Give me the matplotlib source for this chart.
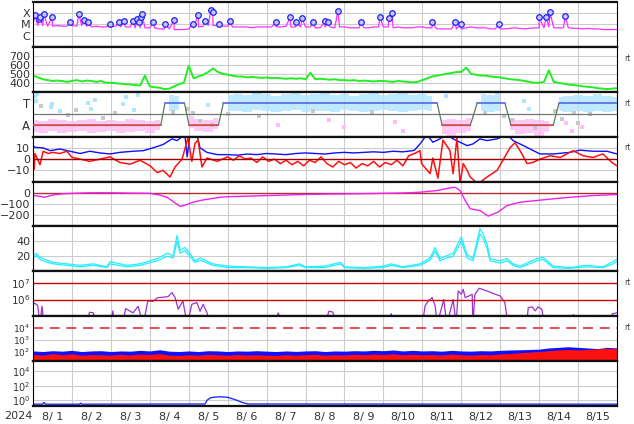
import numpy as np
import matplotlib
matplotlib.use("Agg")
import matplotlib.pyplot as plt

# time axis: days since 2024-08-01 00 UT
day_labels = ["8/ 1", "8/ 2", "8/ 3", "8/ 4", "8/ 5", "8/ 6", "8/ 7", "8/ 8",
              "8/ 9", "8/10", "8/11", "8/12", "8/13", "8/14", "8/15"]

# --- X-ray background, 3-hourly, in units of 1e-6 W/m2
xray_base = [9, 8, 8, 7, 7, 8, 7, 7,
             8, 7, 8, 7, 6, 7, 6, 6,
             6, 7, 6, 6, 6, 5, 5, 5,
             5, 5, 4, 4, 4, 3.5, 3.5, 3.5,
             4, 5, 6, 7, 8, 8, 8, 7,
             7, 6, 6, 6, 6, 5, 6, 6,
             6, 6, 6, 6, 7, 6, 6, 6,
             6, 6, 5, 5, 6, 6, 5, 6,
             6, 5, 5, 5, 5, 5, 6, 6,
             6, 6, 5, 6, 5, 5, 5, 6,
             6, 5, 5, 4, 4, 4, 4, 4,
             4, 5, 6, 5, 5, 5, 4, 4,
             4, 4, 4.5, 5, 4.5, 4, 4.5, 5,
             5, 5, 6, 5, 5, 5, 5, 4.5,
             4.5, 4, 4.5, 4, 4, 3.5, 3.5, 3.5,
             3.5]
# flare peaks (day, flux)
flare_day = [0.05, 0.15, 0.18, 0.28, 0.49, 0.95, 1.18, 1.31, 1.41, 1.98, 2.21, 2.34,
             2.57, 2.67, 2.72, 2.77, 2.80, 3.08, 3.39, 3.62, 4.11, 4.24, 4.42, 4.57,
             4.62, 4.78, 5.06, 6.24, 6.60, 6.76, 6.91, 7.19, 7.50, 7.58, 7.83, 8.43,
             8.91, 9.14, 9.22, 10.25, 10.84, 10.99, 11.97, 13.00, 13.18, 13.28, 13.67]
flare_flux = [6.6e-5, 2.8e-5, 4.3e-5, 8.1e-5, 4.3e-5, 1.5e-5, 8.1e-5, 2.3e-5, 1.5e-5,
              1.2e-5, 1.5e-5, 1.9e-5, 1.9e-5, 2.8e-5, 1.5e-5, 4.3e-5, 8.1e-5, 1.5e-5,
              1.2e-5, 2.3e-5, 1.2e-5, 6.6e-5, 1.9e-5, 1.9e-4, 1.2e-4, 1.2e-5, 1.9e-5,
              1.5e-5, 4.3e-5, 1.5e-5, 3.5e-5, 1.5e-5, 1.9e-5, 1.5e-5, 1.5e-4, 1.5e-5,
              4.3e-5, 3.5e-5, 1.0e-4, 1.5e-5, 1.5e-5, 1.0e-5, 1.2e-5, 4.3e-5, 4.3e-5,
              1.2e-4, 5.4e-5]

# --- solar wind speed, 3-hourly (km/s)
speed = [480, 460, 440, 430, 420, 425, 420, 410,
         420, 430, 415, 425, 420, 410, 420, 400,
         400, 395, 390, 385, 380, 375, 370, 480,
         360, 350, 345, 330, 335, 360, 385, 400,
         590, 450, 470, 490, 520, 560, 520, 500,
         490, 480, 470, 470, 460, 465, 460, 455,
         460, 450, 455, 450, 445, 450, 445, 450,
         440, 510, 440, 445, 440, 435, 440, 430,
         430, 425, 430, 420, 425, 420, 415, 420,
         420, 415, 410, 420, 415, 410, 405, 410,
         430, 450, 470, 480, 490, 500, 510, 520,
         520, 570, 500, 490, 480, 480, 470, 465,
         460, 450, 440, 435, 430, 420, 410, 400,
         400, 410, 540, 410, 400, 390, 380, 375,
         370, 360, 355, 350, 340, 335, 330, 335,
         340]

# --- IMF sector (T=+1, A=-1)
sector_day = [0, 3.28, 3.39, 3.89, 4.01, 4.76, 4.89, 10.38, 10.51, 11.23, 11.41,
              12.12, 12.28, 13.36, 13.51, 15]
sector_val = [-1, -1, 1, 1, -1, -1, 1, 1, -1, -1, 1, 1, -1, -1, 1, 1]
# measured direction spread, 6-hourly
imf_lo = [-1.6, -1.7, -1.5, -1.7, -1.6, -1.5, -1.7, -1.6, -1.5, -1.7, -1.6, -1.5, -1.7,
          -1.4, 0.3, 0.4, -1.2, -1.5, -1.6, -1.3, 0.3,
          0.3, 0.2, 0.4, 0.3, 0.2, 0.3, 0.4, 0.2, 0.3, 0.3, 0.2, 0.4, 0.3, 0.2, 0.3,
          0.4, 0.3, 0.2, 0.3, 0.4, 0.3,
          -1.8, -1.9, -1.7, -1.5, 0.3, 0.2, 0.3, -1.4, -1.8, -1.7, -1.9, -1.6,
          0.3, 0.2, 0.3, 0.2, 0.3, 0.2, 0.3]
imf_hi = [-0.5, -0.6, -0.4, -0.5, -0.6, -0.5, -0.4, -0.6, -0.5, -0.6, -0.4, -0.5, -0.6,
          -0.5, 1.7, 1.6, -0.2, -0.4, -0.5, -0.3, 1.7,
          1.8, 1.7, 1.9, 1.8, 1.6, 1.8, 1.9, 1.7, 1.8, 1.9, 1.7, 1.8, 1.6, 1.8, 1.9,
          1.7, 1.8, 1.9, 1.7, 1.8, 1.6,
          -0.5, -0.4, -0.5, -0.3, 1.8, 1.7, 1.9, -0.3, -0.5, -0.4, -0.5, -0.6,
          1.5, 1.6, 1.7, 1.6, 1.8, 1.6, 1.5]
imf_blue_day = [0.05, 0.08, 0.1, 0.45, 0.5, 0.7, 1.4, 1.5, 1.6, 2.3, 2.4, 2.6, 2.7,
                4.5, 10.6, 12.6, 12.75]
imf_blue_val = [1.6, 1.2, 1.8, 0.6, 0.9, 0.3, 1.0, 0.5, 1.3, 0.9, 1.5, 0.4, 1.7,
                0.8, 1.6, 1.2, 0.5]
imf_pink_day = [6.3, 7.6, 8.0, 9.3, 9.5, 13.7, 13.85, 14.1]
imf_pink_val = [-1.0, -0.5, -1.1, -0.7, -1.5, -0.8, -1.5, -1.1]
imf_gray_day = [0.2, 0.9, 1.1, 1.8, 2.1, 3.6, 4.1, 5.0, 5.8, 11.6, 12.1, 13.4, 13.6,
                13.9, 14.3, 14.0, 3.95, 4.3, 4.6, 7.2, 8.7, 12.3, 12.9]
imf_gray_val = [0.7, -0.1, 0.4, -0.3, 0.1, 0.2, 0.1, 0.0, -0.2, 0.1, -0.2, 0.3, -0.4,
                0.1, 0.0, -0.8, 0.5, -0.6, -1.0, 0.3, 0.2, -0.5, -1.2]

# --- IMF Bt / Bz (nT)
bt_day = [0, 0.05, 0.26, 0.44, 0.69, 0.95, 1.21, 1.46, 1.72, 1.98, 2.23, 2.57, 2.83,
          3.08, 3.34, 3.57, 3.70, 3.90, 3.96, 4.03, 4.21, 4.29, 4.47, 4.73,
          5.0, 5.25, 5.5, 5.75, 6.0, 6.25, 6.5, 6.75, 7.0, 7.25, 7.5, 7.75, 8.0, 8.25,
          8.5, 8.75, 9.0, 9.25, 9.5, 9.75, 9.8, 9.94, 10.12, 10.27, 10.45,
          10.63, 10.79, 10.97, 11.15, 11.30, 11.48, 11.66, 11.92, 12.18, 12.33, 12.51,
          12.77, 13.02, 13.36, 13.79, 14.05, 14.38, 14.74, 15.0]
bt_val = [12, 10.5, 10, 7.5, 9, 7, 5, 7, 5.5, 4.6, 6, 7, 7.5, 10, 13, 18, 16.5, 22, 2,
          22, 22, 10, 6, 4,
          4, 3.5, 4.5, 4, 5, 4.5, 4, 5, 5.5, 5, 4.5, 5.5, 6, 5.5,
          6, 6.5, 6, 7, 6.5, 7.5, 8, 13.5, 22, 15, 18,
          22, 18, 15, 12, 13.5, 18, 16.5, 18, 22, 16.5, 13.5,
          9, 4.6, 4.6, 6, 8, 7, 7, 4.6]
bz_day = [0, 0.03, 0.05, 0.18, 0.26, 0.39, 0.51, 0.69, 0.87, 1.0, 1.21, 1.46, 1.72,
          1.98, 2.23, 2.49, 2.75, 3.01, 3.19, 3.34, 3.52, 3.65, 3.83, 3.90, 3.98, 4.08,
          4.16, 4.24, 4.34, 4.47, 4.73,
          5.0, 5.15, 5.3, 5.45, 5.6, 5.75, 5.9, 6.05, 6.2, 6.35, 6.5, 6.65, 6.8, 6.95,
          7.1, 7.25, 7.4, 7.55, 7.7, 7.85, 8.0, 8.15, 8.3, 8.45, 8.6, 8.75, 8.9, 9.05,
          9.2, 9.35, 9.5, 9.65, 9.8,
          9.94, 9.98, 10.20, 10.27, 10.40, 10.53,
          10.71, 10.79, 10.89, 10.97, 11.05, 11.15, 11.23, 11.43, 11.66, 11.92, 12.07,
          12.25, 12.38, 12.51, 12.69, 12.84, 13.02, 13.28, 13.54, 13.87, 14.13, 14.38,
          14.64, 14.87, 15.0]
bz_val = [-3, -9, 5, -5, 7, 5, 6, 5, 7, 1.6, 0, -2, 0, 2, -3, -4.5, -1, -6, -12, -10,
          -16, -7, 0, 9, 19, -2, 14, 17, -7, 1, -2,
          2, -1, 3, 0, 1, -3, 2, -2, 0, -4, -1, -5, -2, -6,
          -1, -3, 2, -4, -7, -2, -5, -3, -8, -4, -6, -2, -7, -3,
          -5, -1, -6, 3, 5,
          7.5, -4, -13, 1, -17, 17,
          7.5, -13, 19, -22, -4, -10, -16, -22, -16, -10, -1,
          10, 14.6, 7.5, -4, -3, 0, 3, 1.5, 7.5, 3, 1.5,
          4.6, -3, -6]

# --- Dst (nT)
dst_day = [0, 0.15, 0.3, 0.5, 0.75, 1.0, 1.5, 2.0, 2.5, 3.0, 3.25, 3.44, 3.6, 3.78,
           3.96, 4.11, 4.29, 4.55, 4.8, 5.0, 5.5, 6.0, 6.5, 7.0, 7.5, 8.0, 8.5, 9.0,
           9.5, 9.94, 10.38, 10.71, 10.84, 10.97, 11.1, 11.23, 11.48, 11.69, 11.94,
           12.18, 12.51, 13.1, 13.79, 14.38, 15.0]
dst_val = [-25, -30, -40, -20, -10, -5, 0, 0, -3, -5, -20, -40, -78, -122, -104, -84,
           -69, -54, -40, -35, -30, -25, -20, -15, -12, -10, -8, -5, -2, 5, 20, 44, 49,
           20, -69, -143, -158, -208, -173, -113, -84, -63, -40, -25, -15]

# --- cyan pair
cy_day = [0, 0.08, 0.18, 0.26, 0.51, 0.87, 1.21, 1.55, 1.9, 1.98, 2.4, 2.75, 3.19,
          3.44, 3.60, 3.70, 3.78, 3.90, 4.03, 4.16, 4.29, 4.62, 5.0, 5.5, 6.0, 6.5,
          6.85, 7.0, 7.5, 7.9, 8.0, 8.5, 9.0, 9.2, 9.5, 9.94, 10.2, 10.33, 10.45, 10.63,
          10.79, 11.0, 11.15, 11.30, 11.48, 11.56, 11.66, 11.74, 11.99, 12.18, 12.33,
          12.51, 12.94, 13.10, 13.36, 13.79, 14.2, 14.64, 14.9, 15.0]
cy_val = [20, 24, 19, 17, 12, 10, 8, 10, 6, 13, 8, 10, 17, 24, 21, 48, 28, 32, 24, 14,
          18, 10, 7, 6, 5, 6, 10, 6, 7, 12, 6, 5, 7, 10, 6, 10, 18, 32, 17, 21, 24, 46,
          22, 17, 57, 50, 37, 17, 14, 17, 10, 7, 17, 19, 7, 5, 8, 6, 13, 16]
cy2_val = [17, 21, 16, 14, 10, 8, 6, 8, 5, 10, 6, 8, 14, 20, 18, 40, 24, 28, 20, 12,
           15, 8, 5, 5, 4, 5, 8, 5, 5, 10, 5, 4, 5, 8, 5, 8, 15, 27, 14, 18, 20, 40, 18,
           14, 50, 44, 31, 14, 11, 14, 8, 5, 14, 16, 5, 4, 6, 5, 10, 13]

# --- electron flux (log10); 4.5 = below plot range
el_day = [0, 0.05, 0.12, 0.18, 0.23, 0.28, 1.05, 1.08, 1.12, 1.40, 1.45, 1.55, 1.6,
          2.0, 2.05, 2.1, 2.3, 2.38, 2.57, 2.7, 2.83, 2.95, 3.08, 3.21, 3.34, 3.47,
          3.57, 3.65, 3.73, 3.85, 3.96, 4.08, 4.21, 4.29, 4.37, 4.47, 4.55, 6.2, 6.3,
          6.4, 7.5, 7.6, 7.7, 7.8, 9.1, 9.2, 9.3, 10.0, 10.07, 10.15, 10.25, 10.33,
          10.38, 10.55, 10.63, 10.76, 10.79, 10.87, 10.92, 11.0, 11.05, 11.10, 11.2,
          11.28, 11.3, 11.35, 11.46, 11.66, 11.87, 12.0, 12.12, 12.2, 12.68, 12.72,
          12.82, 12.9, 12.97, 13.07, 13.13, 13.2, 13.23, 13.26, 13.85, 13.88, 13.91,
          14.5, 14.55, 14.58, 14.85, 14.88, 15.0]
el_log = [5.72, 5.78, 5.65, 4.5, 5.6, 4.5, 4.5, 5.05, 4.5, 4.5, 5.24, 5.2, 4.5, 4.5,
          5.32, 4.5, 4.5, 5.46, 5.2, 5.6, 4.5, 5.92, 5.9, 6.12, 6.14, 6.18, 6.42, 6.12,
          5.42, 5.92, 4.5, 5.72, 5.82, 5.3, 5.72, 5.2, 4.5, 4.5, 5.2, 4.5, 4.5, 5.3,
          5.25, 4.5, 4.5, 5.15, 4.5, 4.5, 5.62, 5.9, 6.12, 5.62, 4.5, 6.0, 4.5, 5.72,
          6.0, 4.5, 6.52, 6.32, 6.62, 6.12, 6.22, 6.32, 4.5, 6.32, 6.68, 6.52, 6.32,
          6.22, 5.82, 4.5, 4.5, 5.52, 5.56, 5.32, 5.56, 5.42, 4.5, 4.5, 5.05, 4.5, 4.5,
          5.1, 4.5, 4.5, 5.05, 4.5, 4.5, 5.15, 5.2]

# --- proton flux upper envelopes (log10), 6-hourly
pr_blue = [2.10, 2.05, 2.12, 2.08, 2.15, 2.05, 2.10, 2.12, 2.05, 2.10, 2.08, 2.15,
           2.10, 2.20, 2.08, 2.05, 2.10, 2.05, 2.12, 2.10, 2.05, 2.10, 2.08, 2.12,
           2.08, 2.05, 2.10, 2.06, 2.10, 2.12, 2.05, 2.10, 2.08, 2.12, 2.10, 2.15,
           2.12, 2.18, 2.10, 2.15, 2.10, 2.12, 2.08, 2.15, 2.10, 2.08, 2.12, 2.10,
           2.15, 2.18, 2.20, 2.22, 2.25, 2.35, 2.40, 2.45, 2.40, 2.35, 2.30, 2.40, 2.35]
pr_red = [1.80, 1.75, 1.88, 1.78, 1.85, 1.74, 1.80, 1.78, 1.74, 1.82, 1.76, 1.84,
          1.80, 1.88, 1.75, 1.72, 1.78, 1.74, 1.82, 1.78, 1.74, 1.80, 1.76, 1.78,
          1.74, 1.72, 1.78, 1.74, 1.78, 1.82, 1.74, 1.78, 1.76, 1.82, 1.78, 1.84,
          1.80, 1.86, 1.78, 1.82, 1.78, 1.80, 1.76, 1.84, 1.78, 1.75, 1.80, 1.78,
          1.85, 1.88, 1.95, 2.00, 2.05, 2.12, 2.18, 2.22, 2.18, 2.22, 2.28, 2.32, 2.28]

# --- bottom panel flux
p9_day = [0, 0.25, 0.28, 0.32, 1.2, 1.22, 1.26, 4.42, 4.47, 4.55, 4.62, 4.8, 5.0,
          5.19, 5.37, 5.52, 15]
p9_val = [0.28, 0.28, 0.5, 0.28, 0.28, 0.4, 0.28, 0.3, 1.0, 2.0, 2.5, 3.0, 2.5, 1.2,
          0.5, 0.3, 0.28]

GRID = "#cccccc"
TXT = "#333333"
plt.rcParams["font.family"] = ["DejaVu Sans"]

fig = plt.figure(figsize=(6.34, 4.24), dpi=100)
gs = fig.add_gridspec(9, 1, left=33/634, right=617/634, top=1-2/424,
                      bottom=1-406/424, hspace=0)
axes = [fig.add_subplot(gs[i]) for i in range(9)]


def style(ax, hlines=()):
    ax.set_xlim(0, 15)
    for d in range(1, 15):
        ax.axvline(d, color=GRID, lw=0.8, zorder=0)
    for h in hlines:
        ax.axhline(h, color=GRID, lw=0.8, zorder=0)
    ax.set_xticks([])
    ax.tick_params(length=0, labelsize=8, pad=2, colors=TXT)
    ax.minorticks_off()
    for s in ("top", "bottom"):
        ax.spines[s].set_linewidth(1.6)
        ax.spines[s].set_color("#111111")
    for s in ("left", "right"):
        ax.spines[s].set_linewidth(0.8)


def rt(ax, y=0.75):
    ax.text(1.012, y, "rt", transform=ax.transAxes, fontsize=5.5, color="#444444",
            va="center", ha="left")


def pow10(exps):
    return [r"$\mathregular{10^{%d}}$" % e for e in exps]


# 1: X-ray
ax = axes[0]
tb = np.arange(len(xray_base)) / 8
t = np.concatenate([tb, flare_day])
f = np.concatenate([np.array(xray_base) * 1e-6, flare_flux])
o = np.argsort(t)
ax.semilogy(t[o], f[o], color="#ff30ff", lw=0.9)
ax.plot(flare_day, flare_flux, "o", ms=4, mfc="#c8c8ff", mec="#2020ee", mew=0.9)
ax.set_ylim(1e-7, 1e-3)
style(ax, (1e-4, 1e-5, 1e-6))
ax.set_yticks([1e-4, 1e-5, 1e-6], ["X", "M", "C"])
ax.tick_params(labelsize=8)

# 2: speed
ax = axes[1]
ax.plot(np.arange(len(speed)) / 8, speed, color="#22ee22", lw=1.4)
ax.set_ylim(300, 800)
style(ax, (400, 500, 600, 700))
ax.set_yticks([400, 500, 600, 700])
rt(ax)

# 3: sector
ax = axes[2]
ti = np.arange(len(imf_lo)) / 4
lo = np.array(imf_lo)
hi = np.array(imf_hi)
ax.fill_between(ti, np.maximum(lo, 0.05), hi, where=hi > 0, step="mid",
                color="#b0e4ff", lw=0, alpha=0.8, zorder=1)
ax.fill_between(ti, lo, np.minimum(hi, -0.05), where=lo < 0, step="mid",
                color="#ffbcf6", lw=0, alpha=0.8, zorder=1)
ax.plot(imf_blue_day, imf_blue_val, "s", ms=2.5, color="#b0e4ff", mew=0)
ax.plot(imf_pink_day, imf_pink_val, "s", ms=2.5, color="#ffbcf6", mew=0)
ax.plot(imf_gray_day, imf_gray_val, "s", ms=2.5, color="#c8c8c8", mew=0)
ax.axhline(0, color="#777777", lw=0.9, zorder=2)
ax.plot(sector_day, sector_val, color="#5a7a5a", lw=0.9, zorder=3)
for i in range(len(sector_day) - 1):
    if sector_val[i] == sector_val[i + 1]:
        c = "#6070ff" if sector_val[i] > 0 else "#e04848"
        ax.plot(sector_day[i:i + 2], sector_val[i:i + 2], color=c, lw=1.1, zorder=4)
ax.set_ylim(-2, 2)
style(ax)
ax.set_yticks([1, -1], ["T", "A"])
ax.tick_params(labelsize=8.5)
rt(ax)

# 4: Bt / Bz
ax = axes[3]
ax.plot(bt_day, bt_val, color="#1010ff", lw=1.0)
ax.plot(bz_day, bz_val, color="#ff1010", lw=1.1)
ax.axhline(0, color="#a00000", lw=1.0)
ax.set_ylim(-20, 20)
style(ax, (10, -10))
ax.set_yticks([10, 0, -10], ["10", "0", "\u221210"])
rt(ax)

# 5: Dst
ax = axes[4]
ax.axhline(0, color="#b03030", lw=1.0)
ax.plot(dst_day, dst_val, color="#ee22ee", lw=1.0)
ax.set_ylim(-300, 100)
style(ax, (-100, -200))
ax.set_yticks([0, -100, -200], ["0", "\u2212100", "\u2212200"])

# 6: cyan
ax = axes[5]
ax.plot(cy_day, cy_val, color="#22eeff", lw=0.9)
ax.plot(cy_day, cy2_val, color="#22eeff", lw=0.9)
ax.set_ylim(0, 60)
style(ax, (20, 40))
ax.set_yticks([20, 40])

# 7: electrons
ax = axes[6]
ax.semilogy(el_day, 10 ** np.array(el_log), color="#a030d0", lw=0.9)
ax.axhline(1e7, color="#cc0000", lw=1.0)
ax.axhline(1e6, color="#cc0000", lw=1.0)
ax.set_ylim(1e5, 5e7)
style(ax)
ax.set_yticks([1e7, 1e6], pow10([7, 6]))
ax.tick_params(labelsize=7.5)
rt(ax)

# 8: protons
ax = axes[7]
tp = np.arange(len(pr_blue)) / 4
ax.set_yscale("log")
ax.fill_between(tp, 10, 10 ** np.array(pr_blue), color="#1010ff", lw=0)
ax.fill_between(tp, 10, 10 ** np.array(pr_red), color="#ff1010", lw=0)
ax.axhline(1e4, color="#dd3333", lw=1.2, dashes=(6, 4))
ax.set_ylim(10 ** 1.25, 1e5)
style(ax, (1e2, 1e3))
ax.set_yticks([1e4, 1e3, 1e2], pow10([4, 3, 2]))
ax.tick_params(labelsize=6.5)
rt(ax)

# 9: bottom flux
ax = axes[8]
ax.semilogy(p9_day, p9_val, color="#2030ff", lw=1.0)
ax.set_ylim(10 ** -0.8, 10 ** 5.4)
style(ax, (1, 1e2, 1e4))
ax.set_yticks([1e4, 1e2, 1], pow10([4, 2, 0]))
ax.tick_params(labelsize=7)
ax.set_xticks(np.arange(15) + 0.5, day_labels)
ax.tick_params(axis="x", length=0, pad=4, labelsize=8)

fig.text(18/634, 1-416/424, "2024", fontsize=8, color=TXT, ha="center", va="center")

fig.savefig("out.png", dpi=100)
